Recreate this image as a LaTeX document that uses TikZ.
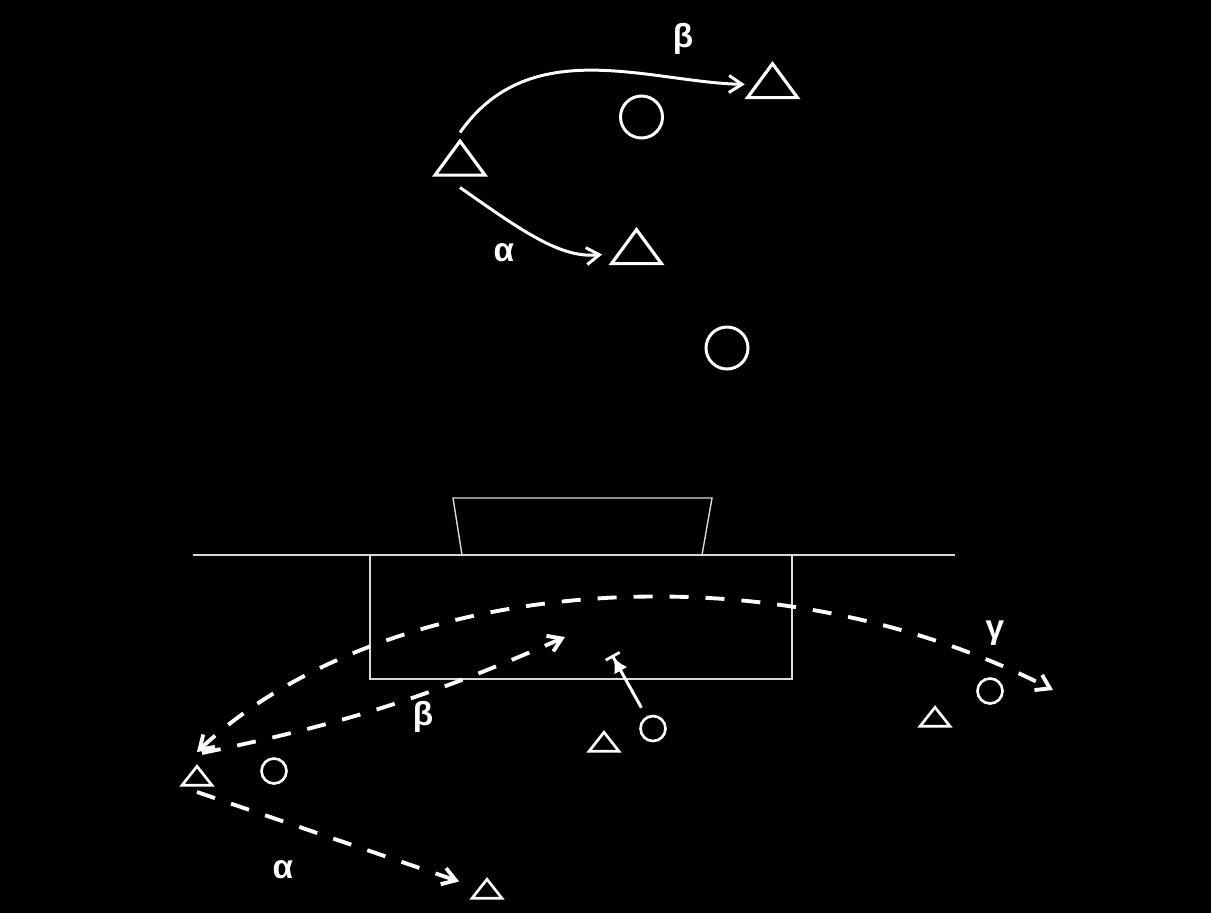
\documentclass[tikz,border=0pt]{standalone}
\usepackage{fontspec}
\setmainfont{Liberation Sans}
\usetikzlibrary{shapes,arrows.meta,positioning,calc}

\begin{document}
\begin{tikzpicture}[
    >={Straight Barb[length=2.6mm,width=3.4mm]},
    bigtri/.style={draw=white, line width=1.8pt, isosceles triangle, isosceles triangle stretches,
                   rotate=90, minimum width=1.0cm, minimum height=0.68cm, inner sep=0pt},
    smalltri/.style={draw=white, line width=1.5pt, isosceles triangle, isosceles triangle stretches,
                     rotate=90, minimum width=0.6cm, minimum height=0.38cm, inner sep=0pt},
    bigcirc/.style={draw=white, line width=1.7pt, circle, minimum size=0.84cm, inner sep=0pt},
    smallcirc/.style={draw=white, line width=1.5pt, circle, minimum size=0.5cm, inner sep=0pt},
    greek/.style={text=white, inner sep=0pt, font=\fontsize{19}{22}\selectfont\bfseries},
    run/.style={draw=white, line width=1.7pt, ->},
    pass/.style={draw=white, line width=2.2pt, dash pattern=on 0.38cm off 0.34cm, ->},
    outline/.style={draw=white!85!black, line width=0.8pt}
]

% --- background ---
\fill[black] (0,0) rectangle (24.22,-18.26);

% --- top: players ---
\node[bigtri] (tri1) at (9.2,-3.25) {};
\node[bigtri] (tri2) at (15.45,-1.7) {};
\node[bigtri] (tri3) at (12.73,-5.02) {};
\node[bigcirc] (circ1) at (12.83,-2.34) {};
\node[bigcirc] (circ2) at (14.54,-6.96) {};

% --- top: runs ---
\draw[run, shorten >=2mm] ([yshift=6mm]tri1.center) to[out=55,in=172] (tri2);
\draw[run, shorten >=3mm] ([yshift=-5mm]tri1.center) to[out=-35,in=175] (tri3);
\node[greek] (beta1) at (13.66,-0.78) {β};
\node[greek] (alpha1) at (10.08,-5.06) {α};

% --- goal area ---
\draw[outline] (3.86,-11.1) -- (19.1,-11.1);
\draw[outline] (9.24,-11.1) -- (9.06,-9.96) -- (14.24,-9.96) -- (14.04,-11.1);
\draw[outline] (7.4,-11.1) rectangle (15.84,-13.58);

% --- bottom: players ---
\node[smalltri] (tri4) at (3.94,-15.56) {};
\node[smallcirc] (circ3) at (5.48,-15.42) {};
\node[smalltri] (tri5) at (9.74,-17.82) {};
\node[smalltri] (tri6) at (12.08,-14.88) {};
\node[smallcirc] (circ4) at (13.06,-14.57) {};
\node[smalltri] (tri7) at (18.7,-14.38) {};
\node[smallcirc] (circ5) at (19.8,-13.82) {};

% --- bottom: passes ---
\coordinate (gend) at (21.06,-13.8);
\coordinate (bhead) at (11.3,-12.74);
\coordinate (block) at (12.24,-13.1);

\draw[pass, <->] ([yshift=5.2mm]tri4.center) .. controls (7.6,-11.6) and (15.2,-10.8) .. (gend);
\draw[pass] ([xshift=1mm,yshift=5mm]tri4.center) to[bend right=6] (bhead);
\draw[pass, shorten >=4mm] ([yshift=-2.8mm]tri4.center) -- (tri5);
\draw[run, shorten <=2mm, -{Latex[length=3mm,width=3mm] Bar[width=3.2mm,line width=1.6pt]}] (circ4) -- (block);

\node[greek] (beta2) at (8.46,-14.34) {β};
\node[greek] (alpha2) at (5.66,-17.4) {α};
\node[greek] (gamma) at (19.9,-12.66) {γ};

\end{tikzpicture}
\end{document}
